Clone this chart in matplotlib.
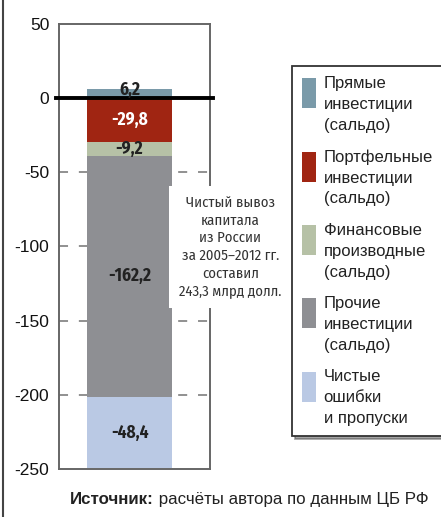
import matplotlib
matplotlib.use("Agg")
import matplotlib.pyplot as plt
from matplotlib import font_manager
from matplotlib.font_manager import FontProperties
from matplotlib.legend_handler import HandlerPatch
from matplotlib.lines import Line2D
from matplotlib.patches import Rectangle

# Структура вывоза капитала, млрд долл.
categories = [
    "Прямые\nинвестиции\n(сальдо)",
    "Портфельные\nинвестиции\n(сальдо)",
    "Финансовые\nпроизводные\n(сальдо)",
    "Прочие\nинвестиции\n(сальдо)",
    "Чистые\nошибки\nи пропуски",
]
values = [6.2, -29.8, -9.2, -162.2, -48.4]
value_labels = ["6,2", "-29,8", "-9,2", "-162,2", "-48,4"]
colors = ["#7a9aa9", "#a02512", "#b6c1a6", "#8e8f93", "#bac9e4"]
label_colors = ["#222222", "white", "#222222", "#222222", "#222222"]
yticks = [50, 0, -50, -100, -150, -200, -250]
note = "Чистый вывоз\nкапитала\nиз России\nза 2005–2012 гг.\nсоставил\n243,3 млрд долл."

plt.rcParams["font.family"] = ["Liberation Sans", "DejaVu Sans"]


def _is_bold(w):
    if isinstance(w, str):
        return "bold" in w.lower() or "black" in w.lower() or "heavy" in w.lower()
    return w >= 600


def _has_cyrillic(path):
    try:
        cmap = font_manager.get_font(path).get_charmap()
    except Exception:
        return False
    return all(ord(c) in cmap for c in "ЧаРл–")


# look for a condensed face with Cyrillic, the original uses one for labels
narrow_reg = None
narrow_bold = None
for f in font_manager.fontManager.ttflist:
    n = f.name.lower()
    if "narrow" not in n and "condensed" not in n:
        continue
    if f.style != "normal" or "black" in f.fname.lower():
        continue
    if not _has_cyrillic(f.fname):
        continue
    if _is_bold(f.weight):
        if narrow_bold is None:
            narrow_bold = f.fname
    elif narrow_reg is None and f.weight in (400, "normal", "regular", "book"):
        narrow_reg = f.fname

if narrow_reg:
    note_prop = FontProperties(fname=narrow_reg, size=10.6)
    note_ls = 1.3
else:
    note_prop = FontProperties(family="Liberation Sans", size=9.6)
    note_ls = 1.6
if narrow_bold:
    bar_prop = FontProperties(fname=narrow_bold, size=12.5)
else:
    bar_prop = FontProperties(family="Liberation Sans", weight="bold", size=10.5)

fig = plt.figure(figsize=(4.41, 5.17), dpi=100)
ax = fig.add_axes([0.134, 0.093, 0.342, 0.861])

# stacked bar: positive part up from 0, negative parts down from 0
x = 0.467
width = 0.563
neg_base = 0.0
bars = []
for val, col, lab, lc in zip(values, colors, value_labels, label_colors):
    if val >= 0:
        b = ax.bar(x, val, width, bottom=0, color=col, zorder=2)
        mid = val / 2 + 2.5
    else:
        b = ax.bar(x, val, width, bottom=neg_base, color=col, zorder=2)
        mid = neg_base + val / 2
        neg_base += val
    bars.append(b)
    ax.text(x, mid, lab, ha="center", va="center", color=lc,
            fontproperties=bar_prop, zorder=4)

ax.set_xlim(0, 1)
ax.set_ylim(-250, 50)
ax.set_xticks([])
ax.set_yticks(yticks)
ax.set_yticklabels([str(t) for t in yticks])
ax.tick_params(axis="y", length=0, pad=7, labelsize=12.5, labelcolor="#111111")

for s in ax.spines.values():
    s.set_color("#666666")
    s.set_linewidth(1.4)

for t in yticks:
    if t in (50, 0, -250):
        continue
    ax.axhline(t, color="#888888", lw=1.3, ls=(0, (5, 6)), zorder=1)

ax.axhline(0, xmin=-0.02, xmax=1.02, color="black", lw=2.8, zorder=3,
           clip_on=False)

ax.text(1.135, -100.5, note, transform=ax.get_yaxis_transform(),
        ha="center", va="center", fontproperties=note_prop,
        color="#333333", linespacing=note_ls, zorder=5,
        bbox=dict(facecolor="white", edgecolor="none", pad=7))


# legend swatch sits next to the first two lines of each label
def top_patch(legend, orig_handle, xdescent, ydescent, width, height, fontsize):
    return Rectangle((-xdescent, 1.5), width, height * 1.3)


leg = fig.legend([b[0] for b in bars], categories,
                 loc="upper left", bbox_to_anchor=(0.662, 0.872),
                 frameon=True, fancybox=False, shadow=True,
                 edgecolor="#333333", fontsize=12,
                 handlelength=0.85, handleheight=1.75, handletextpad=0.45,
                 labelspacing=1.0, borderpad=0.6, borderaxespad=0,
                 handler_map={Rectangle: HandlerPatch(patch_func=top_patch)})
leg.get_frame().set_linewidth(1.3)
for txt in leg.get_texts():
    txt.set_linespacing(1.48)
    txt.set_color("#222222")

fig.add_artist(Line2D([0.007, 0.007], [0, 1], transform=fig.transFigure,
                      color="#444444", lw=1.5))

src = fig.text(0.159, 0.026, "Источник:", fontsize=12.2, fontweight="bold",
               color="#222222", va="baseline")
ax.annotate(" расчёты автора по данным ЦБ РФ", xy=(1, 0), xycoords=src,
            va="bottom", fontsize=12.2, color="#222222")

fig.savefig("out.png", dpi=100)
